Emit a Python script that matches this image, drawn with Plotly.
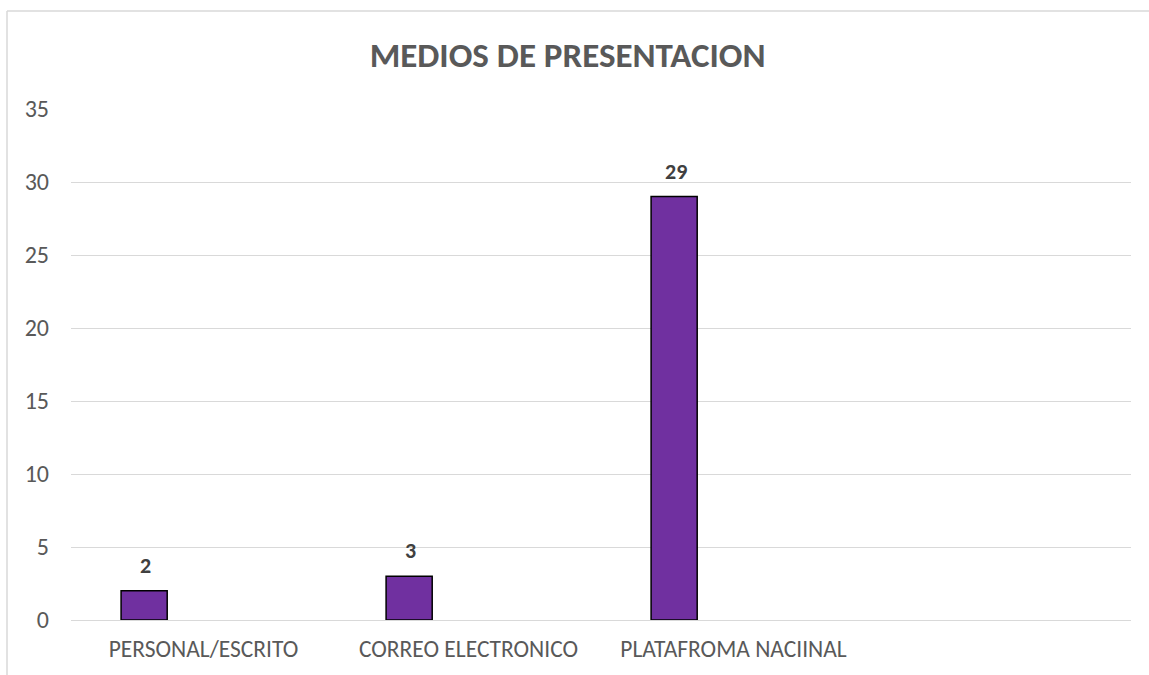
import plotly.graph_objects as go

categories = ["PERSONAL/ESCRITO", "CORREO ELECTRONICO", "PLATAFROMA NACIINAL"]
values = [2, 3, 29]
y_ticks = [0, 5, 10, 15, 20, 25, 30, 35]
title_text = "MEDIOS DE PRESENTACION"

FONT = "Carlito, Calibri, Lato, sans-serif"
GRAY = "#595959"
GRID = "#D9D9D9"

fig = go.Figure()
fig.add_trace(go.Bar(
    x=categories,
    y=values,
    width=0.174,
    offset=-0.311,
    marker=dict(color="#7030A0", line=dict(color="#000000", width=1.5)),
    showlegend=False,
    hoverinfo="x+y",
))

for c, v in zip(categories, values):
    fig.add_annotation(
        x=c, y=v, text=f"<b>{v}</b>", showarrow=False,
        xref="x", yref="y", yanchor="bottom", xanchor="center",
        xshift=-58, yshift=10,
        font=dict(family=FONT, size=22, color="#404040"),
    )

W, H = 1149, 675
L, R, T, B = 71, 18, 109, 55
pw, ph = W - L - R, H - T - B

fig.update_layout(
    width=W, height=H,
    margin=dict(l=L, r=R, t=T, b=B),
    paper_bgcolor="white", plot_bgcolor="white",
    title=dict(text=f"<b>{title_text}</b>", x=0.494, xanchor="center",
               y=1 - 55 / H, yanchor="middle", yref="container",
               font=dict(family=FONT, size=35, color=GRAY)),
    xaxis=dict(
        type="category", range=[-0.5, 3.5],
        showgrid=False, showline=False, ticks="",
        tickfont=dict(family=FONT, size=23.5, color=GRAY),
        ticklabelstandoff=12,
    ),
    yaxis=dict(
        range=[0, 35], tickvals=y_ticks,
        showgrid=True, gridcolor=GRID, gridwidth=1.3,
        zeroline=True, zerolinecolor=GRID, zerolinewidth=1.3,
        showline=False, ticks="",
        tickfont=dict(family=FONT, size=24, color=GRAY),
        ticklabelstandoff=21,
    ),
    shapes=[
        dict(type="line", xref="paper", yref="paper",
             x0=(7 - L) / pw, x1=(W + 20 - L) / pw,
             y0=(H - B - 11) / ph, y1=(H - B - 11) / ph,
             line=dict(color=GRID, width=1.5)),
        dict(type="line", xref="paper", yref="paper",
             x0=(7 - L) / pw, x1=(7 - L) / pw,
             y0=(H - B - 11) / ph, y1=(-B - 20) / ph,
             line=dict(color=GRID, width=1.5)),
    ],
)

fig.write_html("out.html",
               config={"displayModeBar": False},
               post_script="document.body.style.margin='0';document.body.style.overflow='hidden';")
